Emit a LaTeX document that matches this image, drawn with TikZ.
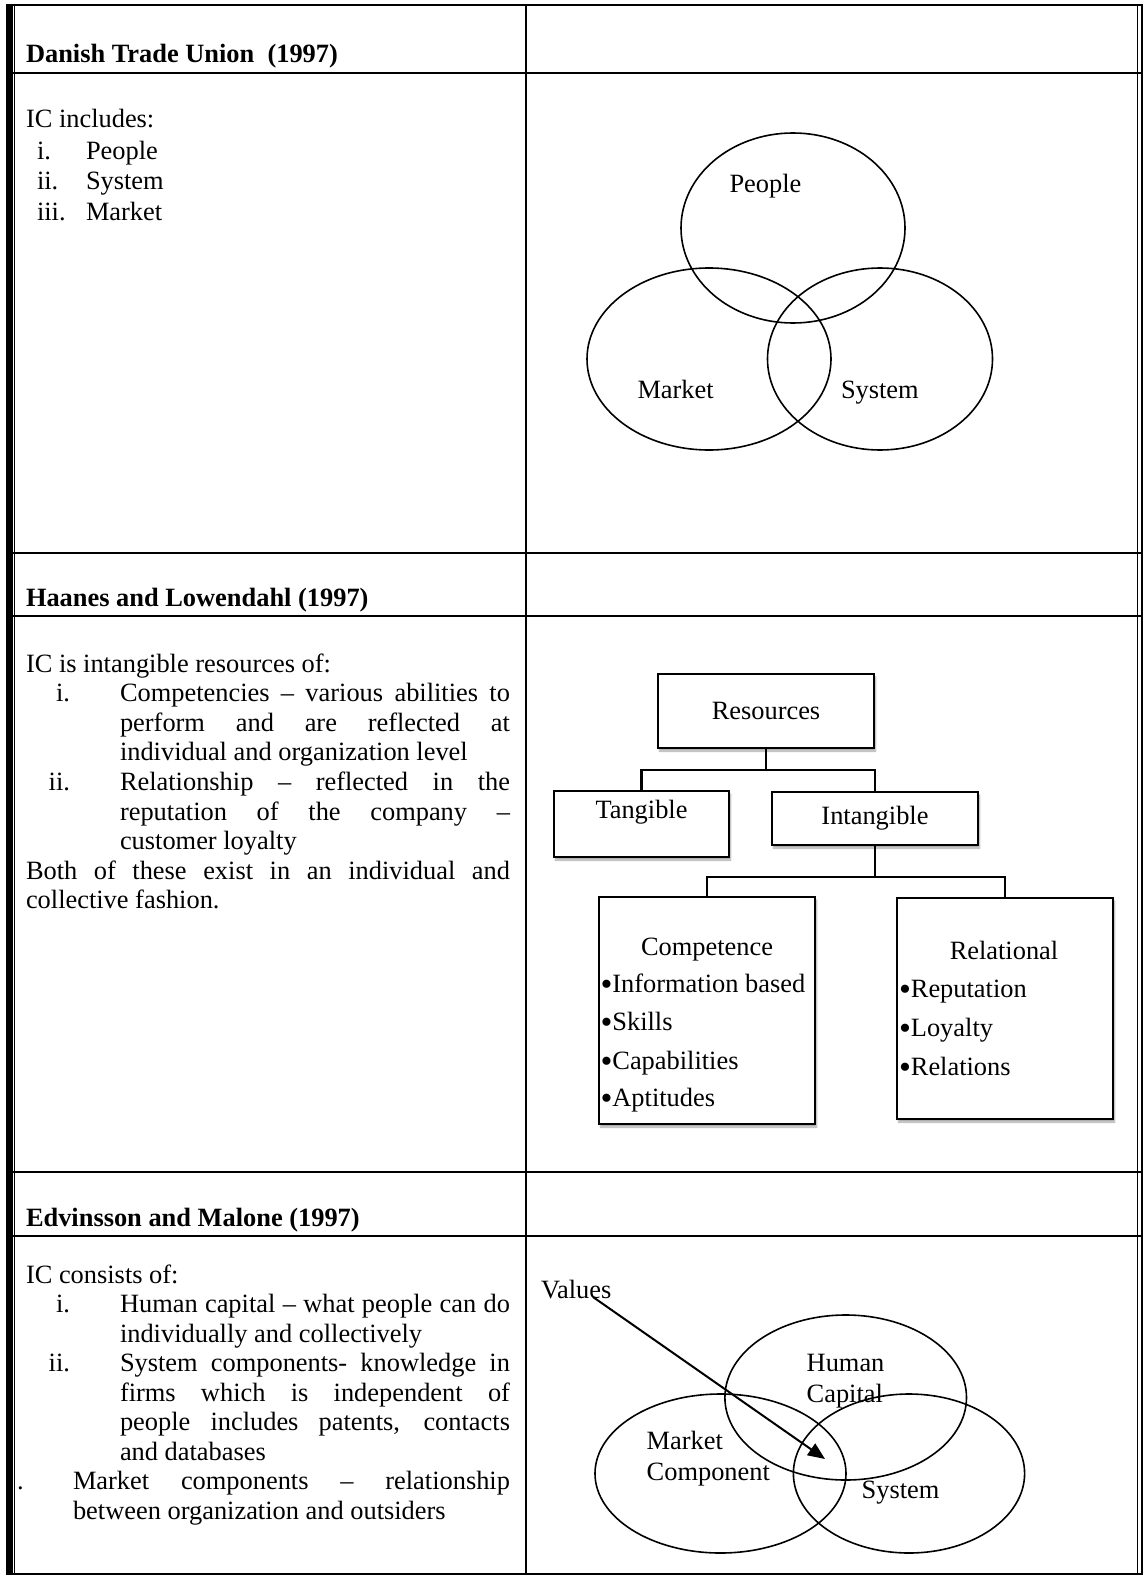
\documentclass[tikz,border=0pt]{standalone}
\usepackage{fontspec}
\setmainfont{Liberation Serif}
\usetikzlibrary{shapes.geometric,shadows.blur,arrows.meta,calc}

% list bullet drawn a little larger than the text bullet
\newcommand{\bul}{\raisebox{-3pt}{\fontsize{34}{30}\selectfont •}}

\begin{document}
\begin{tikzpicture}[x=1pt,y=-1pt,
  every node/.style={inner sep=0pt, outer sep=0pt, font=\fontsize{26.4}{30}\selectfont},
  ln/.style={anchor=base west},
  num/.style={anchor=base east},
  hd/.style={anchor=base west, font=\fontsize{26.4}{30}\selectfont\bfseries},
  rule/.style={line width=2pt},
  venn/.style={draw, ellipse, line width=1.6pt},
  box/.style={draw, fill=white, line width=2.2pt,
    blur shadow={shadow xshift=1.5pt, shadow yshift=-3pt, shadow opacity=35, shadow blur steps=5}},
  link/.style={line width=2.4pt}
]
\useasboundingbox (0,0) rectangle (1144,1576);

% ---------- table frame ----------
\fill (6,5) rectangle (12.5,1574.5);
\draw[line width=1.5pt] (14.5,5) -- (14.5,1574.5);
\foreach \yy in {5,73,553,616,1172,1236,1574}
  \draw[rule] (6,\yy) -- (1143,\yy);
\draw[rule] (526,5) -- (526,1574);
\draw[line width=1.6pt] (1137.5,5) -- (1137.5,1574);
\draw[line width=2pt] (1142,4) -- (1142,1575);

% ---------- row 1: Danish Trade Union ----------
\node[hd] (h1) at (26,63) {Danish Trade Union\ \ (1997)};
\node[ln] (d0) at (26,128) {IC includes:};
\node[ln] (d1n) at (37,159) {i.};
\node[ln] (d1) at (86,159) {People};
\node[ln] (d2n) at (37,189.5) {ii.};
\node[ln] (d2) at (86,189.5) {System};
\node[ln] (d3n) at (37,220) {iii.};
\node[ln] (d3) at (86,220) {Market};

\node[venn, minimum width=224pt, minimum height=190pt] (vpeople) at (793,228) {};
\node[venn, minimum width=244pt, minimum height=182pt] (vmarket) at (709,359) {};
\node[venn, minimum width=225pt, minimum height=182pt] (vsystem) at (880,359) {};
\node[ln] (tpeople) at (729.5,192.7) {People};
\node[ln] (tmarket) at (637.5,398.3) {Market};
\node[ln] (tsystem) at (841,398.3) {System};

% ---------- row 2: Haanes and Lowendahl ----------
\node[hd] (h2) at (26,606) {Haanes and Lowendahl (1997)};
\node[ln] (a0) at (26,672) {IC is intangible resources of:};
\node[num] (a1n) at (70,701.6) {i.};
\node[ln] (a1) at (120,701.6) {\makebox[390pt][s]{Competencies – various abilities to}};
\node[ln] (a2) at (120,731.2) {\makebox[390pt][s]{perform and are reflected at}};
\node[ln] (a3) at (120,760.8) {individual and organization level};
\node[num] (a4n) at (70,790.4) {ii.};
\node[ln] (a4) at (120,790.4) {\makebox[390pt][s]{Relationship – reflected in the}};
\node[ln] (a5) at (120,820) {\makebox[390pt][s]{reputation of the company –}};
\node[ln] (a6) at (120,849.6) {customer loyalty};
\node[ln] (a7) at (26,879.2) {\makebox[484pt][s]{Both of these exist in an individual and}};
\node[ln] (a8) at (26,908.8) {collective fashion.};

% resource tree
\node[box, minimum width=216pt, minimum height=74pt] (res) at (766,711) {Resources};
\node[box, minimum width=175pt, minimum height=66pt] (tang) at (641.5,824) {};
\node[anchor=base] (tangt) at (641.5,818) {Tangible};
\node[box, minimum width=206pt, minimum height=53pt] (intang) at (875,818.5) {Intangible};
\node[box, minimum width=216pt, minimum height=227pt] (comp) at (707,1010.5) {};
\node[box, minimum width=216pt, minimum height=221pt] (rel) at (1005,1008.5) {};

\coordinate (j1) at (766,770);
\coordinate (j2) at (875,877);
\draw[link] (res.south) -- (j1) -| (tang.north);
\draw[link] (j1) -| (intang.north);
\draw[link] (intang.south) -- (j2) -| (comp.north);
\draw[link] (j2) -| (rel.north);

\node[anchor=base] (compt) at (707,955) {Competence};
\node[ln] (c1) at (600.5,992.7) {\bul Information based};
\node[ln] (c2) at (600.5,1030.7) {\bul Skills};
\node[ln] (c3) at (600.5,1069) {\bul Capabilities};
\node[ln] (c4) at (600.5,1106.7) {\bul Aptitudes};

\node[anchor=base] (relt) at (1004,959) {Relational};
\node[ln] (r1) at (899,997.7) {\bul Reputation};
\node[ln] (r2) at (899,1036) {\bul Loyalty};
\node[ln] (r3) at (899,1075) {\bul Relations};

% ---------- row 3: Edvinsson and Malone ----------
\node[hd] (h3) at (26,1226) {Edvinsson and Malone (1997)};
\node[ln] (e0) at (26,1283) {IC consists of:};
\node[num] (e1n) at (70,1312.5) {i.};
\node[ln] (e1) at (120,1312.5) {\makebox[390pt][s]{Human capital – what people can do}};
\node[ln] (e2) at (120,1342) {individually and collectively};
\node[num] (e3n) at (70,1371.5) {ii.};
\node[ln] (e3) at (120,1371.5) {\makebox[390pt][s]{System components- knowledge in}};
\node[ln] (e4) at (120,1401) {\makebox[390pt][s]{firms which is independent of}};
\node[ln] (e5) at (120,1430.5) {\makebox[390pt][s]{people includes patents, contacts}};
\node[ln] (e6) at (120,1460) {and databases};
\node[ln] (e7n) at (17,1489.5) {.};
\node[ln] (e7) at (73,1489.5) {\makebox[437pt][s]{Market components – relationship}};
\node[ln] (e8) at (73,1519) {between organization and outsiders};

\node[venn, minimum width=241.6pt, minimum height=165pt] (vhuman) at (845.7,1397.5) {};
\node[venn, minimum width=251pt, minimum height=159pt] (vmarket2) at (720.5,1473.5) {};
\node[venn, minimum width=231.2pt, minimum height=159pt] (vsystem2) at (909,1473.5) {};
\node[ln] (thuman) at (806.7,1371.7) {Human};
\node[ln] (tcapital) at (806.7,1402.7) {Capital};
\node[ln] (tmarket2) at (646.7,1449.3) {Market};
\node[ln] (tcomp) at (646.7,1480) {Component};
\node[ln] (tsystem2) at (861.7,1498.3) {System};

\node[ln] (values) at (541,1298) {Values};
\coordinate (vstart) at (593,1297);
\coordinate (vtip) at (825,1459);
\draw[line width=2pt, -{Triangle[length=17pt, width=14pt]}] (vstart) -- (vtip);

\end{tikzpicture}
\end{document}
